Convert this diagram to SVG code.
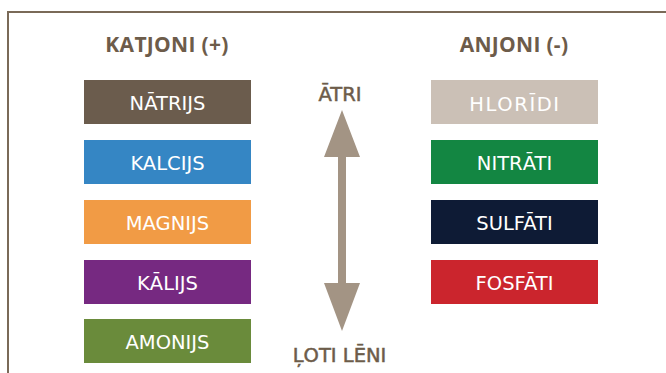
<svg xmlns="http://www.w3.org/2000/svg" width="666" height="373" viewBox="0 0 666 373">
<style>
.hdr{font-family:"Open Sans","DejaVu Sans",sans-serif;font-weight:700;font-size:21px;letter-spacing:0.3px;fill:#6d5c4a;text-anchor:middle}
.lbl{font-family:"DejaVu Sans","Liberation Sans",sans-serif;font-size:19.5px;fill:#6d5c4a;stroke:#6d5c4a;stroke-width:0.5;text-anchor:middle}
.bt{font-family:"DejaVu Sans","Liberation Sans",sans-serif;font-size:19.5px;fill:#ffffff;text-anchor:middle}
</style>
<rect width="666" height="373" fill="#ffffff"/>
<path d="M8,380 V12 H670" fill="none" stroke="#7a6a58" stroke-width="2"/>
<text class="hdr" x="167" y="52">KATJONI (+)</text>
<text class="hdr" x="514" y="52">ANJONI (-)</text>
<g id="natrijs"><rect x="84" y="80" width="167" height="44" fill="#6b5c4d"/><text class="bt" x="167.5" y="110">NĀTRIJS</text></g>
<g id="kalcijs"><rect x="84" y="140" width="167" height="44" fill="#3586c4"/><text class="bt" x="167.5" y="170">KALCIJS</text></g>
<g id="magnijs"><rect x="84" y="200" width="167" height="44" fill="#f19b45"/><text class="bt" x="167.5" y="230">MAGNIJS</text></g>
<g id="kalijs"><rect x="84" y="260" width="167" height="44" fill="#762981"/><text class="bt" x="167.5" y="290">KĀLIJS</text></g>
<g id="amonijs"><rect x="84" y="319" width="167" height="44" fill="#6a8b3b"/><text class="bt" x="167.5" y="349">AMONIJS</text></g>
<g id="hloridi"><rect x="431" y="80" width="167" height="44" fill="#cbc0b6"/><text class="bt" x="515" y="111" style="letter-spacing:1.6px">HLORĪDI</text></g>
<g id="nitrati"><rect x="431" y="140" width="167" height="44" fill="#138642"/><text class="bt" x="514.5" y="170">NITRĀTI</text></g>
<g id="sulfati"><rect x="431" y="200" width="167" height="44" fill="#0e1b35"/><text class="bt" x="514.5" y="230">SULFĀTI</text></g>
<g id="fosfati"><rect x="431" y="260" width="167" height="44" fill="#cb252d"/><text class="bt" x="514.5" y="290">FOSFĀTI</text></g>
<g id="connectors">
<path d="M342,110 L360,157 L346,157 L346,283 L360,283 L342,331 L324,283 L338,283 L338,157 L324,157 Z" fill="#a39484"/>
</g>
<text class="lbl" x="340" y="101">ĀTRI</text>
<text class="lbl" x="339.5" y="362">ĻOTI LĒNI</text>
</svg>
